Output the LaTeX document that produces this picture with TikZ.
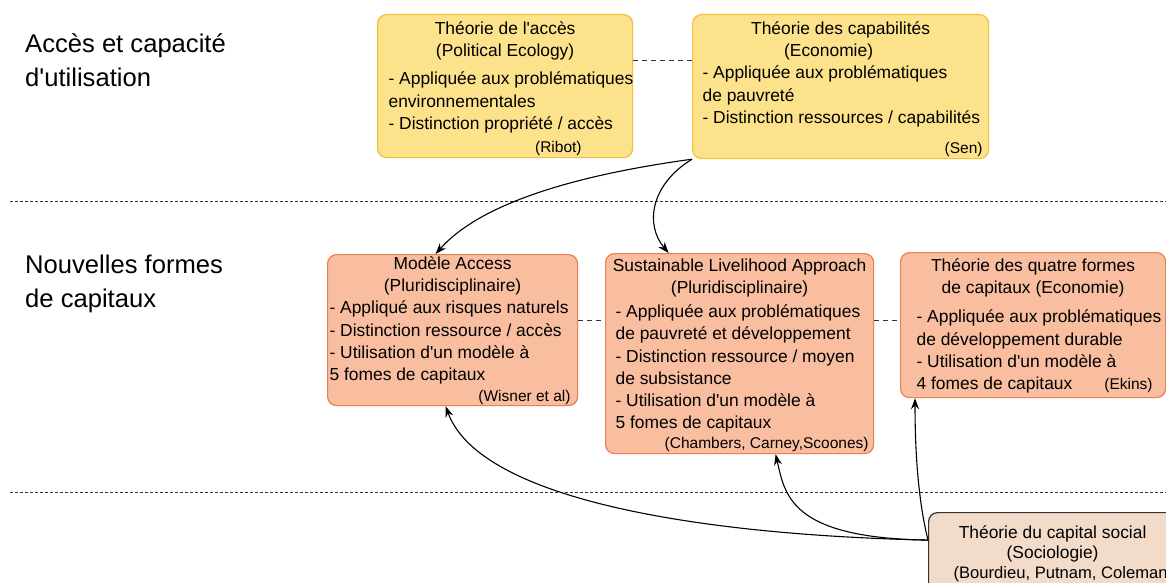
\documentclass[tikz,border=0pt]{standalone}
\usepackage{fontspec}
\setmainfont{Liberation Sans}[Ligatures=TeXOff]
\usetikzlibrary{arrows.meta}
\definecolor{yellowfill}{RGB}{253,226,140}
\definecolor{yellowline}{RGB}{242,190,60}
\definecolor{orangefill}{RGB}{249,190,160}
\definecolor{orangeline}{RGB}{232,128,80}
\definecolor{beigefill}{RGB}{243,219,202}
\definecolor{sepline}{RGB}{50,50,50}

% box contents: width, height, text (top aligned)
\newcommand{\boxtext}[3]{\begin{minipage}[c][#2][t]{#1}\hfuzz=200pt\hbadness=10000 #3\end{minipage}}
\newcommand{\srcfont}{\fontsize{15.5}{18}\selectfont}

\begin{document}
\begin{tikzpicture}[x=1pt, y=-1pt,
    every node/.style={font=\fontsize{17.4}{22.2}\selectfont},
    theorybox/.style={line width=1.2pt, rounded corners=9pt, inner sep=0pt, anchor=north west},
    yellowbox/.style={theorybox, draw=yellowline, fill=yellowfill},
    orangebox/.style={theorybox, draw=orangeline, fill=orangefill},
    beigebox/.style={theorybox, draw=sepline, fill=beigefill},
    rowlabel/.style={anchor=base west, align=left, inner sep=0pt, font=\fontsize{25.6}{34}\selectfont},
    link/.style={sepline, line width=0.9pt, dash pattern=on 5pt off 4pt},
    connector/.style={line width=1.1pt, -{Stealth[length=11pt, width=8pt]}}]
  \useasboundingbox (0,0) rectangle (1166,583);
  \clip (0,0) rectangle (1166,583);

  % Row separators
  \draw[sepline, line width=0.9pt, dash pattern=on 3pt off 2pt] (10,201) -- (1166,201);
  \draw[sepline, line width=0.9pt, dash pattern=on 3pt off 2pt] (10,492) -- (1166,492);

  % Row labels
  \node[rowlabel] (accrow) at (25,87) {Accès et capacité\\d'utilisation};
  \node[rowlabel] (caprow) at (25,307) {Nouvelles formes\\de capitaux};

  % First row
  \node[yellowbox] (acces) at (377,14) {\boxtext{255pt}{143pt}{\vspace*{7pt}\centering Théorie de l'accès\\(Political Ecology)\par
    \vspace{6pt}\raggedright\leftskip=11pt \mbox{- Appliquée aux problématiques}\\environnementales\\- Distinction propriété / accès\par
    \vspace{5pt}{\srcfont\raggedleft\rightskip=51pt (Ribot)\par}}};
  \node[yellowbox] (capab) at (692,14) {\boxtext{296pt}{144pt}{\vspace*{7pt}\centering Théorie des capabilités\hspace*{24pt}\\(Economie)\hspace*{24pt}\par
    \raggedright\leftskip=10pt \mbox{- Appliquée aux problématiques}\\de pauvreté\\\mbox{- Distinction ressources / capabilités}\par
    \vspace{12pt}{\srcfont\raggedleft\rightskip=6pt (Sen)\par}}};

  % Second row
  \node[orangebox] (access) at (327,254) {\boxtext{250pt}{151pt}{\vspace*{2pt}\centering Modèle Access\\(Pluridisciplinaire)\par
    \raggedright\leftskip=2pt \mbox{- Appliqué aux risques naturels}\\- Distinction ressource / accès\\- Utilisation d'un modèle à\\5 fomes de capitaux\par
    \vspace{3pt}{\srcfont\raggedleft\rightskip=7pt (Wisner et al)\par}}};
  \node[orangebox] (sla) at (605,253) {\boxtext{268pt}{200pt}{\vspace*{5pt}\centering \mbox{Sustainable Livelihood Approach}\\(Pluridisciplinaire)\par
    \vspace{2pt}\raggedright\leftskip=10pt \mbox{- Appliquée aux problématiques}\\de pauvreté et développement\\- Distinction ressource / moyen\\de subsistance\\- Utilisation d'un modèle à\\5 fomes de capitaux\par
    \vspace{2pt}{\srcfont\raggedleft\rightskip=5pt (Chambers, Carney,Scoones)\par}}};
  \node[orangebox] (quatre) at (900,252) {\boxtext{265pt}{145pt}{\vspace*{6pt}\centering Théorie des quatre formes\\de capitaux (Economie)\par
    \vspace{7pt}\raggedright\leftskip=16pt \mbox{- Appliquée aux problématiques}\\de développement durable\\- Utilisation d'un modèle à\\\mbox{4 fomes de capitaux}\hfill{\srcfont(Ekins)}\hspace*{13pt}\par}};

  % Third row
  \node[beigebox] (social) at (928,512) {\boxtext{248pt}{95pt}{\fontsize{17.4}{20}\selectfont\vspace*{13pt}\centering Théorie du capital social\\(Sociologie)\par
    \raggedright\leftskip=25pt {\fontsize{16.6}{20}\selectfont\mbox{(Bourdieu, Putnam, Coleman)}}\par}};

  % Links between theories
  \draw[link] ([yshift=25.5pt]acces.east) -- ([yshift=25.5pt]acces.east -| capab.west);
  \draw[link] ([yshift=9.5pt]access.east) -- ([yshift=9.5pt]access.east -| sla.west);
  \draw[link] ([yshift=33pt]sla.east) -- ([yshift=33pt]sla.east -| quatre.west);

  % Arrows
  \draw[connector] (capab.south west) .. controls (540,180) and (470,215) .. ([xshift=-17pt]access.north);
  \draw[connector] (capab.south west) .. controls (650,185) and (645,225) .. ([xshift=-71pt]sla.north);
  \draw[connector] ([yshift=20pt]social.west) .. controls (700,535) and (480,500) .. ([xshift=-7pt]access.south);
  \draw[connector] ([yshift=20pt]social.west) .. controls (790,538) and (785,495) .. ([xshift=36pt]sla.south);
  \draw[connector] ([yshift=20pt]social.west) .. controls (918,500) and (915,450) .. ([xshift=15pt]quatre.south west);
\end{tikzpicture}
\end{document}
